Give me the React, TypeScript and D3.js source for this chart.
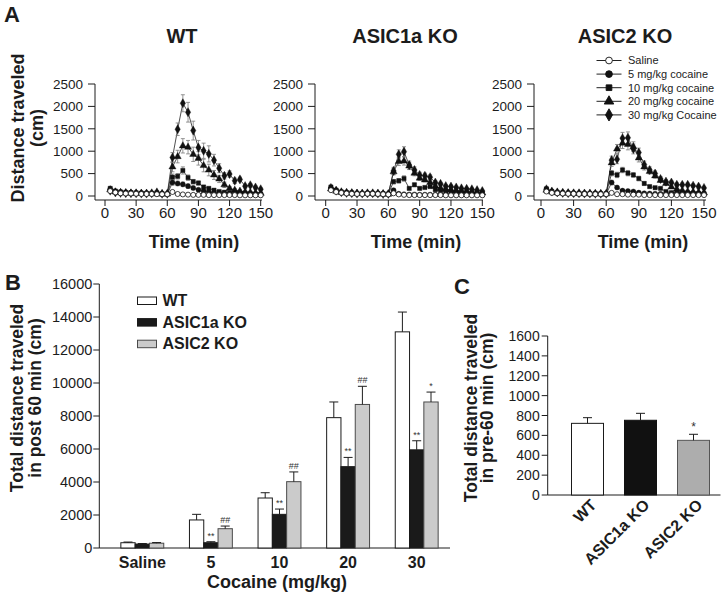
import React from 'react';
import * as d3 from 'd3';

// ---------- Panel A data (time course, 5-min bins) ----------
const TIMES = [5,10,15,20,25,30,35,40,45,50,55,60,65,70,75,80,85,90,95,100,105,110,115,120,125,130,135,140,145,150];
const X_TICKS = [0,30,60,90,120,150];
const Y_TICKS_A = [0,500,1000,1500,2000,2500];
const DOSE_LABELS = ['Saline','5 mg/kg cocaine','10 mg/kg cocaine','20 mg/kg cocaine','30 mg/kg Cocaine'];

const WT_SAL = [110,80,60,55,55,50,45,45,45,40,40,40, 90,45,35,30,25,25,25,20,20,20,20,20,20,15,15,15,15,15];
const WT_SAL_SEM = [20,15,10,10,10,10,10,10,10,10,10,10, 20,10,10,10,5,5,5,5,5,5,5,5,5,5,5,5,5,5];
const WT_5 = [150,100,80,70,70,60,60,55,50,55,40,40, 300,280,260,220,180,140,110,90,70,60,50,45,40,40,35,35,30,30];
const WT_5_SEM = [30,20,15,15,15,10,10,10,10,10,10,10, 60,50,50,45,40,30,25,20,15,15,10,10,10,10,10,10,10,10];
const WT_10 = [170,110,90,80,75,70,65,60,60,70,50,45, 420,440,570,410,320,290,200,170,130,100,85,70,60,55,50,45,40,40];
const WT_10_SEM = [30,20,15,15,15,10,10,10,10,15,10,10, 70,60,80,60,50,45,40,30,25,20,15,15,15,10,10,10,10,10];
const WT_20 = [140,90,75,70,65,60,60,55,55,50,45,45, 650,880,1120,1090,930,840,680,580,470,380,250,170,130,110,90,80,70,60];
const WT_20_SEM = [30,20,15,15,15,10,10,10,10,10,10,10, 110,140,160,150,160,150,140,130,100,80,60,40,30,25,20,20,15,15];
const WT_30 = [120,80,70,65,60,60,55,55,60,80,50,50, 860,1490,2070,1870,1460,1080,1010,940,800,620,450,490,340,370,220,240,190,150];
const WT_30_SEM = [30,20,15,15,15,10,10,10,10,15,10,10, 110,140,190,220,210,160,170,180,130,100,70,70,60,50,40,40,35,30];

const A1_SAL = [130,90,70,55,50,45,45,50,50,45,40,35, 60,35,25,20,20,20,20,20,20,20,15,15,15,15,15,15,15,15];
const A1_SAL_SEM = [20,15,10,10,10,10,10,10,10,10,10,10, 15,10,5,5,5,5,5,5,5,5,5,5,5,5,5,5,5,5];
const A1_5 = [170,120,80,70,60,55,50,55,50,50,45,40, 130,50,40,35,35,30,30,30,30,30,30,30,30,30,30,30,30,30];
const A1_5_SEM = [30,20,15,10,10,10,10,10,10,10,10,10, 30,10,10,10,10,10,10,10,10,10,10,10,10,10,10,10,10,10];
const A1_10 = [200,130,90,75,70,60,55,60,60,55,50,45, 320,340,390,170,250,170,190,210,140,120,100,90,80,70,70,60,60,60];
const A1_10_SEM = [40,25,15,15,10,10,10,10,10,10,10,10, 50,50,60,30,40,30,30,30,20,20,15,15,15,10,10,10,10,10];
const A1_20 = [160,110,80,70,65,60,55,60,55,50,45,40, 540,770,780,670,510,400,360,300,220,170,150,135,120,110,100,90,80,70];
const A1_20_SEM = [30,20,15,10,10,10,10,10,10,10,10,10, 70,90,90,80,60,50,45,40,30,25,20,20,15,15,15,15,15,15];
const A1_30 = [180,120,85,70,65,55,55,60,60,55,45,45, 560,930,990,690,580,470,450,420,300,270,220,210,190,170,160,150,130,110];
const A1_30_SEM = [35,20,15,10,10,10,10,10,10,10,10,10, 80,100,110,90,70,60,60,50,40,35,30,30,25,25,20,20,20,20];

const A2_SAL = [100,70,60,55,50,50,45,45,45,40,40,40, 70,40,40,30,30,30,20,20,20,20,20,20,20,20,20,20,20,20];
const A2_SAL_SEM = [20,15,10,10,10,10,10,10,10,10,10,10, 15,10,10,5,5,5,5,5,5,5,5,5,5,5,5,5,5,5];
const A2_5 = [140,90,70,65,60,55,55,50,50,50,45,45, 300,190,120,110,100,75,60,55,50,50,50,50,50,50,50,45,45,45];
const A2_5_SEM = [30,20,15,10,10,10,10,10,10,10,10,10, 50,30,20,20,15,15,10,10,10,10,10,10,10,10,10,10,10,10];
const A2_10 = [160,100,80,70,65,60,60,55,55,55,50,50, 510,470,580,510,470,390,280,210,185,170,100,75,65,60,60,55,55,50];
const A2_10_SEM = [30,20,15,10,10,10,10,10,10,10,10,10, 60,60,60,60,50,50,40,30,25,25,20,15,15,10,10,10,10,10];
const A2_20 = [130,90,75,70,65,60,55,55,50,50,45,45, 740,1050,1180,1150,1100,850,650,550,450,350,280,200,150,120,100,90,80,70];
const A2_20_SEM = [30,20,15,10,10,10,10,10,10,10,10,10, 80,100,120,120,110,90,70,60,50,40,30,25,20,20,15,15,15,15];
const A2_30 = [150,100,80,70,65,60,60,55,55,50,50,50, 800,820,1290,1300,1050,970,700,580,500,380,320,300,250,250,250,230,210,180];
const A2_30_SEM = [30,20,15,10,10,10,10,10,10,10,10,10, 90,100,130,130,110,100,80,70,60,50,40,40,40,40,40,35,35,30];

// ---------- Panel B data ----------
const B_CATEGORIES = ['Saline','5','10','20','30'];
const B_GROUPS = ['WT','ASIC1a KO','ASIC2 KO'];
const B_WT = [320,1700,3030,7900,13100];
const B_WT_SEM = [40,340,320,950,1200];
const B_A1 = [240,320,2040,4930,5950];
const B_A1_SEM = [30,60,320,560,550];
const B_A2 = [290,1170,4020,8700,8850];
const B_A2_SEM = [40,160,590,1100,600];
const B_A1_MARK = ['','**','**','**','**'];
const B_A2_MARK = ['','##','##','##','*'];
const Y_TICKS_B = [0,2000,4000,6000,8000,10000,12000,14000,16000];

// ---------- Panel C data ----------
const C_GROUPS = ['WT','ASIC1a KO','ASIC2 KO'];
const C_VALUES = [721,752,550];
const C_SEM = [57,70,61];
const C_MARK = ['','','*'];
const Y_TICKS_C = [0,200,400,600,800,1000,1200,1400,1600];

const FONT = 'Liberation Sans, Arial, Helvetica, sans-serif';
const INK = '#1c1c1c';

const SYMBOLS = [d3.symbolCircle, d3.symbolCircle, d3.symbolSquare, d3.symbolTriangle, d3.symbolDiamond];
const SYM_SIZE = [20, 20, 18, 22, 24];

const PANELS = [
  { title: 'WT', series: [WT_SAL, WT_5, WT_10, WT_20, WT_30], sems: [WT_SAL_SEM, WT_5_SEM, WT_10_SEM, WT_20_SEM, WT_30_SEM],
    axisX: 95, axisEnd: 262, r0: 105, r1: 260.7, titleX: 182, xLabelX: 194, yLabel: true, legend: false },
  { title: 'ASIC1a KO', series: [A1_SAL, A1_5, A1_10, A1_20, A1_30], sems: [A1_SAL_SEM, A1_5_SEM, A1_10_SEM, A1_20_SEM, A1_30_SEM],
    axisX: 315, axisEnd: 483, r0: 325.7, r1: 482.3, titleX: 405, xLabelX: 416, yLabel: false, legend: false },
  { title: 'ASIC2 KO', series: [A2_SAL, A2_5, A2_10, A2_20, A2_30], sems: [A2_SAL_SEM, A2_5_SEM, A2_10_SEM, A2_20_SEM, A2_30_SEM],
    axisX: 534, axisEnd: 706, r0: 541, r1: 704, titleX: 625, xLabelX: 643, yLabel: false, legend: true },
];

function TimePanel({ p }: { p: any }) {
  const x = d3.scaleLinear().domain([0, 150]).range([p.r0, p.r1]);
  const y = d3.scaleLinear().domain([0, 2500]).range([196, 84]);
  const axisY = 200;
  const line = d3.line<number>().x((_, i) => x(TIMES[i])).y((v) => y(v));
  const order = [4, 3, 2, 1, 0];
  return (
    <g>
      <text x={p.titleX} y={43} textAnchor="middle" fontSize={20} fontWeight="bold" fill={INK}>{p.title}</text>
      <line x1={p.axisX} x2={p.axisX} y1={y(2500)} y2={axisY} stroke={INK} strokeWidth={1} />
      <line x1={p.axisX} x2={p.axisEnd} y1={axisY} y2={axisY} stroke={INK} strokeWidth={1} />
      {Y_TICKS_A.map((t) => (
        <g key={'y' + t}>
          <line x1={p.axisX - 7} x2={p.axisX} y1={y(t)} y2={y(t)} stroke={INK} strokeWidth={1} />
          <text x={p.axisX - 12} y={y(t)} dy="0.35em" textAnchor="end" fontSize={13.5} fill={INK}>{t}</text>
        </g>
      ))}
      {X_TICKS.map((t) => (
        <g key={'x' + t}>
          <line x1={x(t)} x2={x(t)} y1={axisY} y2={axisY + 6} stroke={INK} strokeWidth={1} />
          <text x={x(t)} y={218} textAnchor="middle" fontSize={15} fill={INK}>{t}</text>
        </g>
      ))}
      <text x={p.xLabelX} y={248} textAnchor="middle" fontSize={18} fontWeight="bold" fill={INK}>Time (min)</text>
      {order.map((s) => (
        <path key={'l' + s} d={line(p.series[s]) || ''} fill="none" stroke="#222" strokeWidth={0.8} />
      ))}
      {order.map((s) => (
        <g key={'e' + s} stroke="#7a7a7a" strokeWidth={0.8}>
          {p.series[s].map((v: number, i: number) => {
            const cx = x(TIMES[i]);
            const e = p.sems[s][i];
            return (
              <g key={i}>
                <line x1={cx} x2={cx} y1={y(v + e)} y2={y(Math.max(0, v - e))} />
                <line x1={cx - 2} x2={cx + 2} y1={y(v + e)} y2={y(v + e)} />
                <line x1={cx - 2} x2={cx + 2} y1={y(Math.max(0, v - e))} y2={y(Math.max(0, v - e))} />
              </g>
            );
          })}
        </g>
      ))}
      {order.map((s) => {
        const path = d3.symbol().type(SYMBOLS[s]).size(SYM_SIZE[s])() || '';
        return (
          <g key={'m' + s}>
            {p.series[s].map((v: number, i: number) => (
              <path key={i} d={path} transform={`translate(${x(TIMES[i])},${y(v)})`}
                fill={s === 0 ? '#fff' : '#111'} stroke="#111" strokeWidth={s === 0 ? 0.8 : 0.4} />
            ))}
          </g>
        );
      })}
      {p.legend && DOSE_LABELS.map((lab, s) => {
        const ly = 60.5 + s * 13.6;
        const path = d3.symbol().type(SYMBOLS[s]).size(SYM_SIZE[s] * 1.8)() || '';
        return (
          <g key={'lg' + s}>
            <line x1={596.5} x2={621.5} y1={ly} y2={ly} stroke="#222" strokeWidth={1} />
            <path d={path} transform={`translate(609,${ly})`} fill={s === 0 ? '#fff' : '#111'} stroke="#111" strokeWidth={0.9} />
            <text x={628} y={ly} dy="0.35em" fontSize={11} fill={INK}>{lab}</text>
          </g>
        );
      })}
    </g>
  );
}

function PanelB() {
  const y = d3.scaleLinear().domain([0, 16000]).range([548, 284]);
  const xc = d3.scalePoint<string>().domain(B_CATEGORIES).range([142.3, 416.7]);
  const bw = 14.3;
  const groups = [
    { vals: B_WT, sems: B_WT_SEM, fill: '#ffffff', stroke: '#1a1a1a', marks: null as any },
    { vals: B_A1, sems: B_A1_SEM, fill: '#1a1a1a', stroke: '#1a1a1a', marks: B_A1_MARK },
    { vals: B_A2, sems: B_A2_SEM, fill: '#cbcbcb', stroke: '#4a4a4a', marks: B_A2_MARK },
  ];
  const axisX = 99.3;
  return (
    <g>
      <text x={5} y={290} fontSize={22} fontWeight="bold" fill={INK}>B</text>
      <text transform="translate(23,398) rotate(-90)" textAnchor="middle" fontSize={17.5} fontWeight="bold" fill={INK}>Total distance traveled</text>
      <text transform="translate(41,398) rotate(-90)" textAnchor="middle" fontSize={17.5} fontWeight="bold" fill={INK}>in post 60 min (cm)</text>
      <line x1={axisX} x2={axisX} y1={y(16000)} y2={y(0)} stroke={INK} strokeWidth={1} />
      <line x1={axisX} x2={450} y1={y(0)} y2={y(0)} stroke={INK} strokeWidth={1} />
      {Y_TICKS_B.map((t) => (
        <g key={t}>
          <line x1={axisX - 6} x2={axisX} y1={y(t)} y2={y(t)} stroke={INK} strokeWidth={1} />
          <text x={axisX - 7} y={y(t)} dy="0.36em" textAnchor="end" fontSize={14.5} fill={INK}>{t}</text>
        </g>
      ))}
      {B_CATEGORIES.map((c, ci) => (
        <g key={c}>
          {groups.map((g, gi) => {
            const x0 = (xc(c) as number) + (gi - 1.5) * bw;
            const cx = x0 + bw / 2;
            const top = y(g.vals[ci]);
            const et = y(g.vals[ci] + g.sems[ci]);
            return (
              <g key={gi}>
                <rect x={x0} y={top} width={bw} height={y(0) - top} fill={g.fill} stroke={g.stroke} strokeWidth={1} />
                <line x1={cx} x2={cx} y1={top} y2={et} stroke={INK} strokeWidth={1} />
                <line x1={cx - 4.5} x2={cx + 4.5} y1={et} y2={et} stroke={INK} strokeWidth={1} />
                {g.marks && g.marks[ci] && (
                  <text x={cx} y={et - 3} textAnchor="middle" fontSize={9} fill="#333">{g.marks[ci]}</text>
                )}
              </g>
            );
          })}
          <text x={xc(c) as number} y={568} textAnchor="middle" fontSize={16} fontWeight="bold" fill={INK}>{c}</text>
        </g>
      ))}
      <text x={277} y={588} textAnchor="middle" fontSize={18} fontWeight="bold" fill={INK}>Cocaine (mg/kg)</text>
      {B_GROUPS.map((gname, gi) => {
        const by = 306 + gi * 21.6;
        return (
          <g key={gname}>
            <rect x={137.5} y={by - 9} width={19} height={7.5} fill={groups[gi].fill} stroke={groups[gi].stroke} strokeWidth={1} />
            <text x={162.5} y={by} fontSize={16} fontWeight="bold" fill={INK}>{gname}</text>
          </g>
        );
      })}
    </g>
  );
}

function PanelC() {
  const y = d3.scaleLinear().domain([0, 1600]).range([495, 336]);
  const xc = d3.scalePoint<string>().domain(C_GROUPS).range([587.5, 693.5]);
  const bw = 32;
  const fills = ['#ffffff', '#111111', '#adadad'];
  const strokes = ['#1a1a1a', '#111111', '#555555'];
  const axisX = 547.7;
  return (
    <g>
      <text x={454} y={294} fontSize={22} fontWeight="bold" fill={INK}>C</text>
      <text transform="translate(477,408) rotate(-90)" textAnchor="middle" fontSize={17.5} fontWeight="bold" fill={INK}>Total distance traveled</text>
      <text transform="translate(493,408) rotate(-90)" textAnchor="middle" fontSize={17.5} fontWeight="bold" fill={INK}>in pre-60 min (cm)</text>
      <line x1={axisX} x2={axisX} y1={y(1600)} y2={y(0)} stroke={INK} strokeWidth={1} />
      <line x1={axisX} x2={720.5} y1={y(0)} y2={y(0)} stroke={INK} strokeWidth={1} />
      {Y_TICKS_C.map((t) => (
        <g key={t}>
          <line x1={axisX - 6} x2={axisX} y1={y(t)} y2={y(t)} stroke={INK} strokeWidth={1} />
          <text x={axisX - 8} y={y(t)} dy="0.36em" textAnchor="end" fontSize={14} fill={INK}>{t}</text>
        </g>
      ))}
      {C_GROUPS.map((g, i) => {
        const cx = xc(g) as number;
        const top = y(C_VALUES[i]);
        const et = y(C_VALUES[i] + C_SEM[i]);
        return (
          <g key={g}>
            <rect x={cx - bw / 2} y={top} width={bw} height={y(0) - top} fill={fills[i]} stroke={strokes[i]} strokeWidth={1} />
            <line x1={cx} x2={cx} y1={top} y2={et} stroke={INK} strokeWidth={1} />
            <line x1={cx - 4.5} x2={cx + 4.5} y1={et} y2={et} stroke={INK} strokeWidth={1} />
            {C_MARK[i] && <text x={cx} y={et - 3} textAnchor="middle" fontSize={12} fill="#333">{C_MARK[i]}</text>}
            <text transform={`translate(${cx + 10},506) rotate(-45)`} textAnchor="end" fontSize={16} fontWeight="bold" fill={INK}>{g}</text>
          </g>
        );
      })}
    </g>
  );
}

export default function App() {
  return (
    <svg width={726} height={600} style={{ position: 'absolute', left: 0, top: 0, background: '#fff' }} fontFamily={FONT}>
      <rect width={726} height={600} fill="#fff" />
      <text x={4} y={22} fontSize={22} fontWeight="bold" fill={INK}>A</text>
      <text transform="translate(24,128) rotate(-90)" textAnchor="middle" fontSize={18} fontWeight="bold" fill={INK}>Distance traveled</text>
      <text transform="translate(43,128) rotate(-90)" textAnchor="middle" fontSize={18} fontWeight="bold" fill={INK}>(cm)</text>
      {PANELS.map((p) => <TimePanel key={p.title} p={p} />)}
      <PanelB />
      <PanelC />
    </svg>
  );
}
